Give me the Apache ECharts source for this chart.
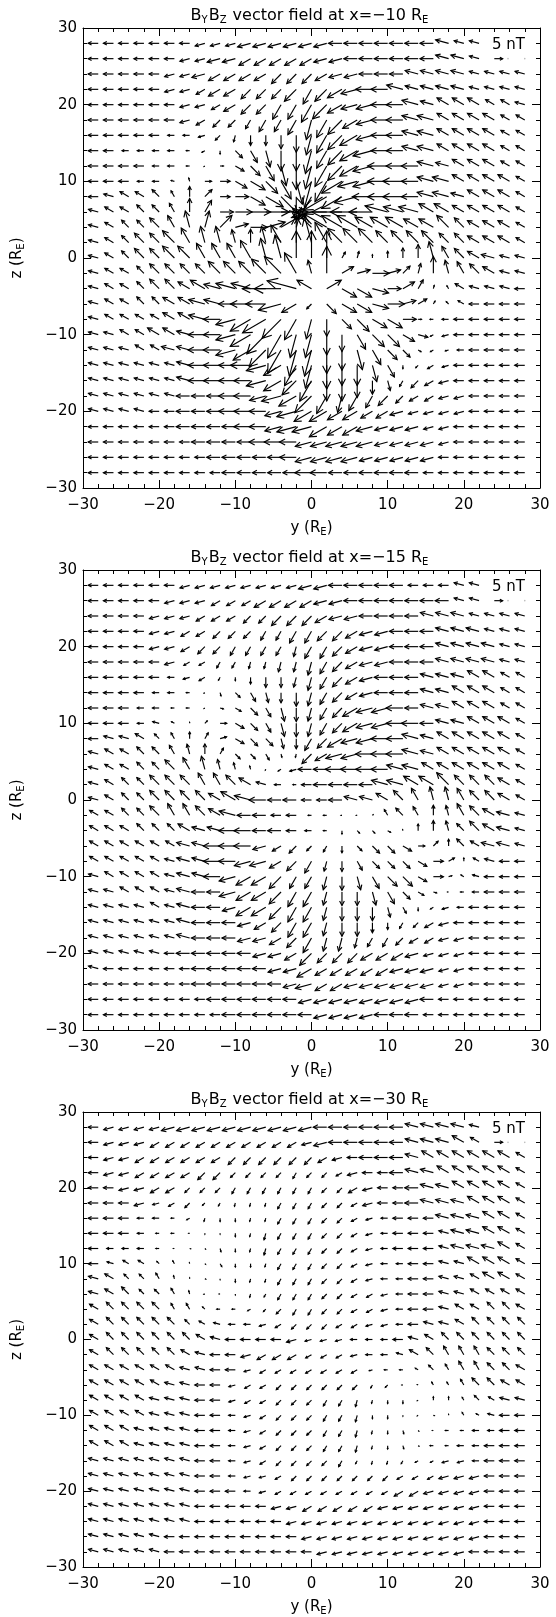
<!DOCTYPE html>
<html>
<head>
<meta charset="utf-8">
<title>ByBz vector field</title>
<script src="https://cdn.jsdelivr.net/npm/echarts@6/dist/echarts.min.js"></script>
</head>
<body style="margin:0;background:#fff">
<div id="main" style="width:556px;height:1617px"></div>
<script>
// grid points (R_E): columns along y, rows along z (top row first)
var yGrid = [-28, -26, -24, -22, -20, -18, -16, -14, -12, -10, -8, -6, -4, -2, 0,
             2, 4, 6, 8, 10, 12, 14, 16, 18, 20, 22, 24, 26, 28];
var zGrid = [28, 26, 24, 22, 20, 18, 16, 14, 12, 10, 8, 6, 4, 2, 0,
             -2, -4, -6, -8, -10, -12, -14, -16, -18, -20, -22, -24, -26, -28];
var panelX = ['\u221210', '\u221215', '\u221230'];
var tickValues = [-30, -20, -10, 0, 10, 20, 30];
var tickLabels = ['\u221230', '\u221220', '\u221210', '0', '10', '20', '30'];
var refField = 5; // nT, legend arrow

// one code per arrow: direction letter (a = +y, 15 deg steps anticlockwise, g = +z, m = -y, s = -z)
// followed by magnitude digit (2 nT per step); '..' = no arrow (legend box)
var fieldX10 = [
  "m3 m3 m3 m3 m3 m3 m3 n3 n3 n3 n4 n4 n4 n4 n4 n4 m4 m4 m4 m4 m4 m4 m4 l4 l3 l3 .. .. ..",
  "m3 m3 m3 m3 m3 m3 n3 n3 n4 n4 o4 o4 o4 o4 o4 n4 n4 m4 m4 m4 m4 m4 m4 l4 l4 l3 .. .. ..",
  "m3 m3 m3 m3 m3 n3 n3 n4 o4 o4 o4 o4 p4 p4 p4 o4 n4 n4 m4 m4 m4 l4 l4 l4 l4 l3 l3 l3 l3",
  "m3 m3 m3 m3 m3 n3 n3 o3 o4 o4 p4 p4 p4 p5 q5 p5 o5 n5 m5 m5 l5 l4 l4 l4 l4 l3 l3 l3 l3",
  "m3 m3 m3 m3 m3 m3 n3 n3 o3 o4 p4 p4 q5 q5 q6 p6 o5 n5 n5 m5 m5 l5 l4 k4 k4 k4 k3 k3 l3",
  "m3 m3 m3 m3 m3 m3 n3 o3 p3 p3 q3 q4 q4 q5 r6 q6 p6 o5 n5 m5 m5 l5 l5 k4 k4 k4 k4 k3 k3",
  "m3 m3 m3 m3 m3 m2 m2 n2 p2 r2 s3 s3 s4 s5 r6 q6 p6 o6 n5 m5 m5 l5 l5 k4 k4 k4 k4 k3 k3",
  "m3 m3 m2 m2 m2 m2 m1 o1 s1 v3 u4 t5 s6 s6 r7 q6 p6 o6 n6 m5 m5 l5 l5 k4 k4 k4 k4 k3 k3",
  "m3 m3 m3 m3 m2 m2 m1 o0 a1 w3 v4 u5 t6 s7 r7 q7 p6 o6 n6 m6 m5 m5 l5 l4 k4 k4 k4 k3 k3",
  "m3 m3 m3 m2 m2 l1 h1 a2 a3 w4 w5 v5 u6 t7 r8 q7 o7 n6 n6 m6 m6 m5 l5 l5 k4 k4 k4 k4 k3",
  "m3 l3 k3 k3 j3 i2 g3 d3 a3 a4 w5 w6 v7 s7 q8 o8 o7 n7 m6 m6 m6 m5 l5 l5 l4 k4 k4 k4 k3",
  "l3 k3 k3 j3 j3 i3 g4 e4 a4 a5 a6 a7 a8 v3 n6 m9 m9 m8 m7 l7 l6 l6 k5 k5 k4 k4 k4 k4 k3",
  "l3 k3 j3 j3 j4 i4 h5 f5 d5 b4 a5 b6 c6 f6 j8 k8 k7 k7 k6 k6 k6 k5 k5 j5 j4 k4 k4 k4 k3",
  "l3 k3 j3 j4 j4 j5 i5 h5 h5 h4 g4 h5 i6 g8 h8 i7 j6 j6 j6 j5 j5 j5 j5 j4 j4 k4 k4 k4 k3",
  "l3 k3 j3 j4 j4 j5 j5 i5 i5 i5 i6 h6 h7 g8 g8 g8 e2 f2 g1 g2 g3 g4 h5 i4 j4 k4 l4 l3 l3",
  "l3 k3 k3 j3 j4 j4 j4 j4 j5 j5 j5 j6 j7 i7 h4 g8 c4 b4 a5 b4 d3 f3 g5 h4 i4 j4 k4 l3 l3",
  "l3 k3 k3 j3 j4 j4 k4 k5 l5 l6 l6 m7 m8 l9 k5 c5 w5 w5 x5 a4 c4 e3 f1 i1 k3 l3 l3 l3 m3",
  "l3 k3 k3 j3 j3 k4 k4 l5 l5 m5 m6 m6 n7 o5 p2 v4 w5 w5 x5 a5 b4 c3 e1 j1 k2 m3 m3 m3 m3",
  "l3 k3 k3 k3 k3 k4 k4 l5 m5 n6 o7 o8 p8 q7 r6 s5 v4 v5 w5 w5 a4 a1 m1 m2 m3 m3 m3 m3 m3",
  "l3 l3 k3 k3 k4 k4 l4 m5 m5 n6 o7 p8 q8 r7 r7 s6 s5 u5 v5 v5 w4 x3 o1 n2 m3 m3 m3 m3 m3",
  "l3 l3 l3 k3 k3 l4 l4 m5 m5 n6 o6 p7 q8 r8 r8 s7 s6 t6 u5 v4 v3 w1 o1 n1 m2 m3 m3 m3 m3",
  "l3 l3 l3 l3 l3 l3 l4 m5 m5 m5 m6 n6 o6 q7 r7 s7 s6 s6 t5 u4 s1 p1 o2 n2 m3 m3 m3 m3 m3",
  "l3 l3 l3 l3 l3 l3 l4 m5 m5 m5 m5 n6 o6 p6 q7 s6 s6 s5 s4 t3 q2 p3 o3 n3 m3 m3 m3 m3 m3",
  "l3 l3 l3 l3 l3 l3 m4 m4 m4 m5 m5 n5 n6 o6 p7 q6 r5 q5 q4 p4 p3 o3 o3 n3 n3 m3 m3 m3 m3",
  "l3 l3 l3 l3 m3 m3 m4 m4 m4 m5 m5 m5 n5 n6 o6 o6 o5 o5 o4 o4 n4 n3 n3 n3 n3 m3 m3 m3 m3",
  "m3 m3 m3 m3 m3 m3 m4 m4 m4 m4 m5 m5 n5 n6 n6 o6 o5 o5 n5 n4 n4 n4 n3 n3 m3 m3 m3 m3 m3",
  "m3 m3 m3 m3 m3 m3 m3 m4 m4 m4 m4 m5 m5 m5 n5 n5 n5 n5 n5 n4 n4 n4 n4 n3 m3 m3 m3 m3 m3",
  "m3 m3 m3 m3 m3 m3 m3 m3 m4 m4 m4 m4 m4 m5 n5 n5 n5 n5 n4 n4 n4 n4 n4 m3 m3 m3 m3 m3 m3",
  "m3 m3 m3 m3 m3 m3 m3 m3 m3 m4 m4 m4 m4 m4 m5 m5 m4 m4 m4 m4 m4 m4 m3 m3 m3 m3 m3 m3 m3"
];

var fieldX15 = [
  "m3 m3 m3 m3 m3 m3 n3 n3 n3 n3 n3 n3 n3 n3 n4 n4 m4 m4 m4 m4 m4 m3 m3 m3 l3 l3 .. .. ..",
  "m3 m3 m3 m3 m3 n3 n3 n3 o3 o3 o3 o4 o4 o4 o4 n4 n4 m4 m4 m4 m4 m4 m4 m4 l3 l3 .. .. ..",
  "m3 m3 m3 m3 n3 n3 n3 o3 o3 o3 p3 p3 p4 p4 p4 o4 n4 n4 m4 m4 m4 m4 l4 l4 l4 l3 l3 l3 l3",
  "m3 m3 m3 m3 n3 n3 o3 o3 p3 p3 p3 q3 q3 q4 q4 p4 p4 o4 n4 n4 m4 m4 m4 l4 l4 l4 l3 l3 l3",
  "m3 m3 m3 m3 n3 n3 o3 p3 p3 q3 q3 q3 q3 r3 q4 q4 p4 o4 n4 n4 m4 m4 m4 l4 l4 l4 l4 l3 l3",
  "m3 m3 m3 m3 m3 n3 o2 o2 q2 q2 r2 r2 r3 r3 r4 q4 p4 o4 n4 n4 m4 m4 m4 l4 l4 l4 l4 l3 l3",
  "m3 m3 m3 m3 m3 m2 n2 o2 q1 s1 s2 s3 s3 r3 r4 q4 p4 o4 n4 m4 m4 m4 l4 l4 l4 k4 k4 k3 k3",
  "m3 m3 m3 m3 m2 m2 m1 o0 t1 v2 u3 t3 s3 s4 r4 q4 p4 o4 n4 m4 m4 m4 l4 l4 k4 k4 k4 k3 k3",
  "m3 m3 m3 m2 m2 m1 m1 o0 x1 w2 v3 u3 t4 s4 r4 q4 p4 o5 n5 n5 m5 m4 l4 l4 k4 k4 k4 k3 k3",
  "m3 m3 m3 m2 l2 k1 g0 d1 a2 w3 v3 u3 t4 s4 r4 q4 p4 o5 n5 n5 m5 m5 m4 l4 l4 k4 k4 k4 k3",
  "m3 l3 l3 k3 j2 i2 g2 e2 b2 w3 v3 v3 t3 s3 q4 p4 o5 n5 n5 m5 m5 l5 l4 k4 k4 k4 k4 k4 k3",
  "l3 k3 k3 j3 j3 i3 h3 g3 e2 v2 v2 u2 t1 r1 p4 o4 n5 n5 m5 m5 m5 l5 l4 k4 k4 k4 k4 k4 k3",
  "l3 k3 k3 j3 j3 j4 i4 h4 h3 h2 h1 q0 o1 n2 m4 m4 m5 m5 m5 m5 l5 l5 k4 k4 k4 k4 k4 k4 k3",
  "l3 k3 j3 j3 j4 j4 j4 i4 i4 j4 k4 l3 m2 m1 m3 m4 m4 m4 m4 l5 l5 k5 k5 j5 j4 j4 j4 k4 k3",
  "l3 k3 j3 j3 j4 j4 j4 j4 k4 k5 l5 m5 m4 m4 m3 m3 m4 l4 l4 k4 j4 i4 h4 h4 i4 j4 j4 k4 k3",
  "k3 k3 j3 j3 j4 i4 i4 j4 k4 l5 m4 m4 m3 m3 m1 m1 m0 m0 d0 i2 j3 i3 g3 h3 i4 j4 k4 l4 l3",
  "k3 k3 k3 j3 j3 j3 k4 l4 l4 m5 m5 m4 m4 m3 m2 m1 s1 v1 v1 w1 h0 g2 g3 h3 j3 j4 k4 l4 l3",
  "k3 k3 k3 k3 k3 k3 l4 l4 m5 m5 m5 n4 o3 p3 p2 q2 s2 v2 v3 v3 w3 a2 d2 g2 j3 k3 l4 l4 l3",
  "k3 k3 k3 k3 k3 l3 l4 l4 m5 m5 n5 n5 o4 p4 q4 r3 s3 u3 v3 v3 v3 w3 a3 c2 g1 k2 l3 m3 m3",
  "l3 k3 k3 k3 k3 l3 l4 l4 m5 n5 o5 o5 p5 q4 q4 r4 s4 t4 u4 v4 v4 w3 a3 b1 k1 l2 m3 m3 m3",
  "l3 l3 k3 k3 k3 l3 l4 m4 m4 n5 o5 o5 p5 q5 q5 r4 s4 s4 t4 u4 v3 w2 x1 m0 m1 m2 m3 m3 m3",
  "l3 l3 l3 l3 k3 l3 l4 m4 m4 n4 o5 o5 p5 q5 q5 r4 s4 s4 s4 t3 u2 s1 o1 n2 m2 m3 m3 m3 m3",
  "l3 l3 l3 l3 l3 l3 l4 m4 m4 m4 n4 o4 p4 q5 q5 r4 s4 s4 s3 s2 q2 p2 o3 n3 m3 m3 m3 m3 m3",
  "l3 l3 l3 l3 l3 l3 l4 m4 m4 m4 n4 n4 o4 p4 q5 r4 r4 r3 q3 q3 p3 o3 o3 n3 n3 m3 m3 m3 m3",
  "l3 l3 l3 l3 l3 m3 m4 m4 m4 m4 m4 n4 n4 o4 p5 p4 p4 p4 o4 o4 o4 n4 n3 n3 n3 m3 m3 m3 m3",
  "l3 m3 m3 m3 m3 m3 m3 m4 m4 m4 m4 m4 n4 n4 o5 o4 o4 o4 o4 o4 n4 n4 n4 n3 n3 m3 m3 m3 m3",
  "m3 m3 m3 m3 m3 m3 m3 m4 m4 m4 m4 m4 m4 n4 n5 o4 o4 n4 n4 n4 n4 n4 n4 n3 n3 m3 m3 m3 m3",
  "m3 m3 m3 m3 m3 m3 m3 m3 m4 m4 m4 m4 m4 m4 n4 n4 n4 n4 n4 n4 n4 n4 m4 m3 m3 m3 m3 m3 m3",
  "m3 m3 m3 m3 m3 m3 m3 m3 m3 m4 m4 m4 m4 m4 m4 n4 n4 n4 n4 m4 m4 m4 m3 m3 m3 m3 m3 m3 m3"
];

var fieldX30 = [
  "m3 n3 n3 n3 n3 n4 n4 n4 n4 n4 n4 n4 n4 n4 n4 m4 m4 m4 m4 m4 m4 l4 l4 l4 l4 l3 .. .. ..",
  "m3 n3 n3 n3 o3 o3 o3 o3 o3 o3 o3 o3 o3 o3 n3 n4 m4 m4 m4 m4 m4 l4 l4 l4 k4 k3 .. .. ..",
  "m3 n3 n3 o3 o3 o3 o3 o3 o3 p3 p3 p3 p3 p3 p3 o3 n3 m3 m4 m4 m4 l4 k4 k4 k4 k4 k4 k4 k3",
  "m3 n3 n3 o3 o3 o3 o3 p3 p3 p2 p2 p2 p2 q2 p2 p2 o2 n3 m3 m3 m4 l4 l4 k4 k4 k4 k4 k4 k3",
  "m3 m3 n3 n3 o3 o3 p2 p2 p2 q2 q2 q2 q2 q2 q2 p2 p2 o3 n3 m3 m3 m4 l4 l4 k4 k4 k4 k4 k3",
  "m3 m3 m3 n3 n2 o2 p2 p1 q1 r1 r1 r1 q2 q2 q2 p2 p2 o2 n3 m3 m3 m4 l4 l4 l4 k4 k4 k4 k3",
  "m3 m3 m3 m2 m2 m1 o1 r1 s1 s1 r1 r1 q2 q2 q2 p2 p2 o2 n2 m2 m3 m3 m3 l4 l4 l4 k4 k4 k3",
  "m3 m3 m3 m2 m1 m1 m0 s0 s0 s1 r1 r2 q2 q2 q2 p2 p2 o2 n2 m2 m3 m3 m3 l3 l4 l4 k4 k4 k3",
  "m3 m2 m2 m2 m1 m0 x0 v0 t1 s1 r1 r2 q2 q2 q2 p2 p2 o2 n2 m2 m3 m3 m3 l3 l4 l4 l4 k4 k3",
  "m3 l2 k2 k2 j1 i1 h0 v0 u1 s1 s1 r1 q2 q2 q2 p2 p2 o2 n2 m2 m2 m3 m3 l3 l3 k4 k4 k4 k3",
  "l3 k3 j2 j2 i2 h1 g0 x0 s0 s1 r1 r1 q2 q2 q2 p2 p2 o2 n2 m2 m2 m3 m3 l3 l3 k3 k4 k4 k3",
  "l3 k3 j3 j2 j2 i2 h1 n0 m0 s0 r1 q1 q2 q2 q2 p2 p2 o2 o2 n2 m2 m3 m3 l3 l3 k3 k3 k3 k3",
  "k3 j3 j3 j3 j3 i2 i2 j1 m1 m1 o1 p1 p2 q2 q2 p2 p2 o2 o2 n2 m2 m3 m3 l3 k3 k3 j3 j3 k3",
  "k3 j3 j3 j3 j3 j3 j2 k2 l2 m2 m2 n2 o2 p2 p2 p2 o2 o2 n2 n2 m2 m3 l3 l3 k3 j3 j3 j3 j3",
  "k3 j3 j3 j3 j3 j3 j3 k3 l3 m3 m3 m3 m3 n3 n2 n2 n2 m2 m2 m2 m3 l3 k3 j3 j3 j3 j3 j3 j3",
  "k3 j3 j3 j3 j3 j3 k3 l3 m3 m3 n3 o3 o3 o3 o2 o2 o2 n2 m2 m2 l2 k3 j3 i3 i3 i3 j3 j3 j3",
  "k3 k3 k3 k3 k3 k3 l3 l3 m3 m3 n2 o2 o2 o2 o2 o2 o2 o2 n1 m1 m1 k1 j2 i2 i3 i3 j3 j3 k3",
  "k3 k3 k3 k3 k3 l3 l3 m3 m3 n2 o2 o2 p2 p2 p2 p2 p2 p2 q1 p1 m0 k0 i1 i1 i2 j3 j3 k3 k3",
  "k3 k3 k3 k3 l3 l3 l3 m3 m3 n2 o2 o2 p2 p2 p2 q2 q2 r2 r1 s1 s1 o0 g1 g1 i1 j2 k2 l3 l3",
  "k3 k3 k3 k3 l3 l3 l3 m3 m3 m2 n2 o2 p2 p2 p2 q2 q2 r2 s1 s1 s0 o0 x0 g0 i1 k1 l2 m3 m3",
  "k3 k3 k3 l3 l3 l3 l3 m3 m3 m2 n2 o2 p2 p2 p2 q2 q2 r2 r1 s1 t1 v0 m0 m1 m1 m2 m2 m3 m3",
  "k3 k3 k3 l3 l3 l3 l3 m3 m3 m2 n2 o2 p2 p2 p2 q2 q2 r2 r1 s1 t1 w0 m1 m1 m2 m2 m3 m3 m3",
  "l3 l3 l3 l3 l3 l3 l3 m3 m3 m2 n2 o2 p2 p2 p2 p2 q2 q1 r1 r1 q1 o1 o1 n2 n2 m2 m3 m3 m3",
  "l3 l3 l3 l3 l3 l3 l3 m3 m3 m2 n2 n2 o2 p2 p2 p2 p2 p2 p2 p2 o2 o2 o2 n3 n3 n3 m3 m3 m3",
  "l3 l3 l3 l3 l3 l3 l3 m3 m3 m3 m2 n2 o2 o2 o2 o2 o2 o2 o2 o2 o3 o3 n3 n3 n3 n3 m3 m3 m3",
  "l3 l3 l3 l3 l3 l3 l3 m3 m3 m3 m3 m3 n3 n3 o3 o3 o3 o3 o3 n3 n3 n3 n3 n3 n3 n3 m3 m3 m3",
  "l3 l3 l3 l3 l3 l3 l3 m3 m3 m3 m3 m3 m3 n3 n3 n3 n3 n3 n3 n3 n3 n3 n3 n3 n3 n3 m3 m3 m3",
  "l3 l3 l3 l3 l3 m3 m3 m3 m3 m3 m3 m3 m3 m3 n3 n3 n3 n3 n3 n3 n3 n3 n3 n3 n3 n3 m3 m3 m3",
  "l3 l3 l3 l3 l3 m3 m3 m3 m3 m3 m3 m3 m3 m3 m3 n3 n3 n3 n3 n3 n3 n3 n3 n3 n3 m3 m3 m3 m3"
];

var fields = [fieldX10, fieldX15, fieldX30];

var DIRS = 'abcdefghijklmnopqrstuvwx';
var K = 0.22;            // R_E of arrow length per nT
var FONT = 'DejaVu Sans';
var gridTops = [28, 570, 1112];

function decode(rows) {
    var out = [];
    rows.forEach(function (row, i) {
        row.split(' ').forEach(function (c, j) {
            if (c === '..' || j >= yGrid.length) return;
            var ang = DIRS.indexOf(c[0]) * 15 * Math.PI / 180;
            var mag = Math.max(+c[1] * 2, 0.6);
            out.push([yGrid[j], zGrid[i], mag * Math.cos(ang), mag * Math.sin(ang)]);
        });
    });
    return out;
}

function arrowShapes(api, y, z, by, bz) {
    var p0 = api.coord([y, z]);
    var p1 = api.coord([y + by * K, z + bz * K]);
    var dx = p1[0] - p0[0], dy = p1[1] - p0[1];
    var len = Math.sqrt(dx * dx + dy * dy);
    var a = Math.atan2(dy, dx);
    var h = len * 0.38, s = 0.48;
    var st = { stroke: '#000', lineWidth: 1.15, fill: null };
    return [
        { type: 'line', shape: { x1: p0[0], y1: p0[1], x2: p1[0], y2: p1[1] }, style: st },
        { type: 'polyline', shape: { points: [
            [p1[0] - h * Math.cos(a - s), p1[1] - h * Math.sin(a - s)], p1,
            [p1[0] - h * Math.cos(a + s), p1[1] - h * Math.sin(a + s)]] }, style: st }
    ];
}

function renderArrow(params, api) {
    return { type: 'group', children: arrowShapes(api, api.value(0), api.value(1), api.value(2), api.value(3)) };
}

function renderLegend(params, api) {
    var y = api.value(0), z = api.value(1);
    var kids = arrowShapes(api, y, z, refField, 0);
    var t = api.coord([y - 0.3, z + 1.8]);
    kids.push({ type: 'text', x: t[0], y: t[1], style: { text: refField + ' nT', font: '15px ' + FONT, fill: '#000', verticalAlign: 'middle' } });
    [1.8, 4.0].forEach(function (d) {
        var p = api.coord([y + d, z]);
        kids.push({ type: 'circle', shape: { cx: p[0], cy: p[1], r: 0.8 }, style: { fill: '#bbb' } });
    });
    return { type: 'group', children: kids };
}

function fmt(v) {
    var i = tickValues.indexOf(v);
    return i < 0 ? '' : tickLabels[i];
}

var rich = {
    n: { fontSize: 15, fontFamily: FONT, color: '#000', lineHeight: 20 },
    s: { fontSize: 10, fontFamily: FONT, color: '#000', lineHeight: 20, padding: [8, 0, 0, 0] }
};
var titleRich = {
    n: { fontSize: 16, fontFamily: FONT, color: '#000', lineHeight: 20 },
    s: { fontSize: 10, fontFamily: FONT, color: '#000', lineHeight: 20, padding: [8, 1, 0, 0] }
};

function xAxis(gi, pos) {
    return {
        type: 'value', gridIndex: gi, position: pos, min: -30, max: 30, interval: 10,
        axisLine: { onZero: false, lineStyle: { color: '#000', width: 1 } },
        axisTick: { inside: true, length: 8, lineStyle: { color: '#000' } },
        minorTick: { show: true, splitNumber: 5, length: 4, lineStyle: { color: '#000' } },
        splitLine: { show: false },
        axisLabel: { show: pos === 'bottom', formatter: fmt, color: '#000', fontSize: 15, fontFamily: FONT, margin: 10 },
        name: pos === 'bottom' ? '{n|y (R}{s|E}{n|)}' : '',
        nameLocation: 'middle', nameGap: 30,
        nameTextStyle: { rich: rich }
    };
}

function yAxis(gi, pos) {
    return {
        type: 'value', gridIndex: gi, position: pos, min: -30, max: 30, interval: 10,
        axisLine: { onZero: false, lineStyle: { color: '#000', width: 1 } },
        axisTick: { inside: true, length: 8, lineStyle: { color: '#000' } },
        minorTick: { show: true, splitNumber: 5, length: 4, lineStyle: { color: '#000' } },
        splitLine: { show: false },
        axisLabel: { show: pos === 'left', formatter: fmt, color: '#000', fontSize: 15, fontFamily: FONT, margin: 6 },
        name: pos === 'left' ? '{n|z (R}{s|E}{n|)}' : '',
        nameLocation: 'middle', nameGap: 56, nameRotate: 90,
        nameTextStyle: { rich: rich }
    };
}

var grids = [], xAxes = [], yAxes = [], series = [], graphics = [];
fields.forEach(function (f, i) {
    grids.push({ left: 79, width: 461, top: gridTops[i], height: 460 });
    xAxes.push(xAxis(i, 'bottom'), xAxis(i, 'top'));
    yAxes.push(yAxis(i, 'left'), yAxis(i, 'right'));
    series.push({
        type: 'custom', xAxisIndex: 2 * i, yAxisIndex: 2 * i,
        renderItem: renderArrow, data: decode(f), silent: true
    });
    series.push({
        type: 'custom', xAxisIndex: 2 * i, yAxisIndex: 2 * i,
        renderItem: renderLegend, data: [[24, 26]], silent: true
    });
    graphics.push({
        type: 'text', x: 310, y: gridTops[i] - 12,
        style: {
            text: '{n|B}{s|Y}{n|B}{s|Z}{n| vector field at x=' + panelX[i] + ' R}{s|E}',
            rich: titleRich, align: 'center', verticalAlign: 'middle'
        }
    });
});

var chart = echarts.init(document.getElementById('main'));
chart.setOption({
    animation: false,
    backgroundColor: '#fff',
    grid: grids,
    xAxis: xAxes,
    yAxis: yAxes,
    series: series,
    graphic: graphics
});
</script>
</body>
</html>
